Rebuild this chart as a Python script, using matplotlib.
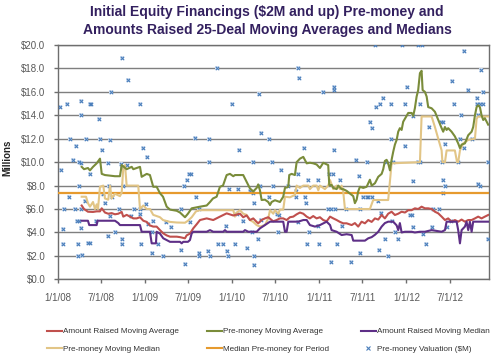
import matplotlib

matplotlib.use("Agg")
import matplotlib.pyplot as plt
import matplotlib.dates as mdates
from matplotlib.lines import Line2D
import numpy as np
import pandas as pd

# x values are decimal years (2008.0 = 1/1/08)

# Pre-money moving average (25 deals)
pm_avg_x = [2008.275, 2008.302, 2008.347, 2008.370, 2008.405, 2008.447, 2008.485, 2008.505,
            2008.542, 2008.600, 2008.657, 2008.714, 2008.734, 2008.791, 2008.849, 2008.867,
            2008.944, 2008.963, 2009.021, 2009.058, 2009.096, 2009.135, 2009.173, 2009.208,
            2009.250, 2009.288, 2009.365, 2009.403, 2009.460, 2009.494, 2009.537, 2009.632,
            2009.709, 2009.747, 2009.781, 2009.823, 2009.861, 2009.896, 2009.938, 2009.976,
            2010.014, 2010.033, 2010.128, 2010.167, 2010.205, 2010.243, 2010.282, 2010.300,
            2010.320, 2010.339, 2010.377, 2010.415, 2010.435, 2010.454, 2010.492, 2010.549,
            2010.587, 2010.607, 2010.645, 2010.656, 2010.683, 2010.721, 2010.741, 2010.779,
            2010.817, 2010.856, 2010.893, 2010.931, 2010.970, 2011.008, 2011.046, 2011.103,
            2011.115, 2011.142, 2011.161, 2011.200, 2011.218, 2011.257, 2011.275, 2011.314,
            2011.352, 2011.390, 2011.409, 2011.429, 2011.447, 2011.467, 2011.505, 2011.544,
            2011.562, 2011.581, 2011.601, 2011.639, 2011.677, 2011.716, 2011.734, 2011.753,
            2011.773, 2011.791, 2011.811, 2011.830, 2011.849, 2011.868, 2011.888, 2011.906,
            2011.925, 2011.945, 2011.963, 2011.983, 2012.002, 2012.021, 2012.060, 2012.078,
            2012.097, 2012.117, 2012.135, 2012.155, 2012.174, 2012.186, 2012.212, 2012.232,
            2012.250, 2012.289, 2012.327, 2012.365, 2012.404, 2012.422, 2012.442, 2012.461,
            2012.479, 2012.518, 2012.556, 2012.594, 2012.614, 2012.633, 2012.671, 2012.709,
            2012.748, 2012.766, 2012.786, 2012.805, 2012.823, 2012.843, 2012.862, 2012.881,
            2012.900, 2012.938]
pm_avg_y = [9.6, 9.4, 9.5, 9.3, 9.6, 9.9, 10.3, 9.0,
            8.9, 8.85, 8.8, 8.8, 9.75, 9.4, 9.6, 9.4,
            9.6, 8.75, 9.0, 8.9, 7.9, 7.9, 7.35, 7.05,
            6.2, 5.95, 5.85, 5.7, 5.3, 5.6, 6.06, 6.2,
            6.3, 6.6, 6.9, 7.05, 7.9, 8.0, 8.9, 9.0,
            8.8, 8.9, 8.9, 8.33, 7.76, 7.5, 7.8, 8.1,
            7.6, 6.77, 6.8, 6.6, 6.34, 6.6, 6.75, 6.6,
            7.05, 7.8, 7.9, 8.9, 9.0, 8.9, 10.0, 10.3,
            10.45, 9.9, 9.95, 9.9, 9.8, 9.5, 9.95, 9.75,
            8.05, 8.05, 7.8, 7.7, 8.0, 7.7, 7.7, 7.55,
            7.33, 7.1, 6.5, 6.8, 7.5, 7.9, 7.8, 7.9,
            8.2, 8.5, 8.0, 8.2, 8.75, 9.0, 9.4, 10.1,
            10.2, 9.9, 9.3, 10.2, 10.9, 11.5, 11.9, 12.6,
            12.9, 12.75, 13.45, 13.7, 13.95, 14.2, 14.2, 13.95,
            14.6, 15.6, 16.15, 17.6, 17.8, 16.15, 16.0, 15.6,
            14.7, 14.6, 14.3, 13.6, 12.9, 12.6, 13.0, 12.75,
            12.9, 12.6, 12.2, 11.6, 11.2, 11.5, 11.6, 12.3,
            12.6, 13.0, 14.0, 14.7, 14.85, 14.7, 14.0, 13.6,
            13.75, 13.2]

# Pre-money moving median
pm_med_x = [2008.275, 2008.325, 2008.347, 2008.370, 2008.405, 2008.428, 2008.447, 2008.462,
            2008.485, 2008.523, 2008.542, 2008.580, 2008.600, 2008.619, 2008.657, 2008.714,
            2008.734, 2008.752, 2008.772, 2008.791, 2008.924, 2008.944, 2008.982, 2009.021,
            2009.058, 2009.096, 2009.135, 2009.173, 2009.208, 2009.288, 2009.365, 2009.460,
            2009.494, 2009.537, 2009.586, 2009.632, 2009.938, 2010.014, 2010.033, 2010.053,
            2010.091, 2010.128, 2010.167, 2010.205, 2010.243, 2010.282, 2010.320, 2010.377,
            2010.415, 2010.435, 2010.473, 2010.492, 2010.530, 2010.549, 2010.587, 2010.607,
            2010.664, 2010.721, 2010.741, 2010.779, 2010.817, 2010.874, 2010.893, 2010.931,
            2010.970, 2010.989, 2011.008, 2011.065, 2011.103, 2011.124, 2011.161, 2011.200,
            2011.238, 2011.257, 2011.275, 2011.295, 2011.581, 2011.619, 2011.791, 2011.830,
            2012.155, 2012.174, 2012.289, 2012.327, 2012.365, 2012.404, 2012.413, 2012.442,
            2012.461, 2012.556, 2012.581, 2012.594, 2012.614, 2012.651, 2012.709, 2012.786,
            2012.805, 2012.823, 2012.938]
pm_med_y = [7.05, 7.05, 6.5, 6.2, 6.6, 6.0, 6.4, 6.0,
            7.9, 8.0, 6.9, 6.8, 8.0, 6.9, 7.3, 7.1,
            7.4, 9.5, 9.75, 8.0, 8.0, 6.0, 6.3, 6.0,
            6.0, 5.5, 5.4, 5.3, 5.06, 4.9, 4.85, 4.83,
            5.0, 5.3, 5.8, 5.9, 5.9, 5.9, 5.35, 5.7,
            5.9, 5.6, 5.5, 5.06, 4.9, 4.63, 4.5, 4.63,
            5.2, 5.9, 5.6, 5.9, 5.6, 5.95, 5.95, 7.05,
            7.0, 7.2, 8.0, 7.8, 8.0, 8.0, 7.7, 8.0,
            8.0, 7.6, 8.0, 7.7, 8.0, 8.47, 7.7, 8.0,
            7.7, 8.0, 7.5, 6.0, 6.0, 6.77, 6.77, 9.9,
            10.0, 13.9, 13.9, 13.0, 12.0, 11.0, 10.0, 10.0,
            11.0, 11.0, 10.0, 10.0, 11.0, 11.6, 11.9, 12.0,
            13.7, 13.9, 13.9]

# Amount raised moving average
ar_avg_x = [2008.275, 2008.302, 2008.347, 2008.405, 2008.447, 2008.485, 2008.505, 2008.542,
            2008.580, 2008.619, 2008.657, 2008.695, 2008.734, 2008.752, 2008.791, 2008.829,
            2008.867, 2008.906, 2008.944, 2008.982, 2009.021, 2009.058, 2009.096, 2009.135,
            2009.173, 2009.211, 2009.250, 2009.288, 2009.365, 2009.403, 2009.460, 2009.479,
            2009.517, 2009.555, 2009.594, 2009.632, 2009.709, 2009.784, 2009.861, 2009.938,
            2010.014, 2010.091, 2010.128, 2010.167, 2010.205, 2010.243, 2010.282, 2010.300,
            2010.339, 2010.377, 2010.415, 2010.454, 2010.473, 2010.511, 2010.549, 2010.587,
            2010.626, 2010.664, 2010.702, 2010.741, 2010.779, 2010.817, 2010.856, 2010.893,
            2010.931, 2010.970, 2011.008, 2011.046, 2011.085, 2011.124, 2011.161, 2011.200,
            2011.238, 2011.275, 2011.314, 2011.372, 2011.409, 2011.447, 2011.486, 2011.524,
            2011.562, 2011.601, 2011.639, 2011.677, 2011.716, 2011.753, 2011.791, 2011.830,
            2011.868, 2011.906, 2011.945, 2011.983, 2012.021, 2012.060, 2012.097, 2012.135,
            2012.174, 2012.212, 2012.250, 2012.289, 2012.327, 2012.365, 2012.404, 2012.442,
            2012.479, 2012.518, 2012.556, 2012.594, 2012.633, 2012.671, 2012.709, 2012.748,
            2012.786, 2012.823, 2012.862, 2012.900, 2012.938]
ar_avg_y = [6.3, 6.0, 5.77, 5.75, 5.8, 5.8, 6.06, 5.7,
            5.6, 5.65, 5.55, 5.6, 5.75, 5.35, 5.5, 5.35,
            5.2, 5.2, 5.3, 5.0, 4.9, 4.6, 4.5, 4.5,
            4.2, 3.92, 3.75, 3.64, 3.64, 3.6, 3.5, 3.75,
            3.9, 4.35, 4.7, 5.06, 5.2, 5.06, 5.35, 5.63,
            5.45, 5.6, 5.3, 5.45, 5.06, 5.2, 4.9, 4.78,
            5.06, 5.2, 5.3, 5.06, 4.95, 5.06, 5.2, 5.2,
            5.06, 5.3, 5.35, 5.55, 5.7, 5.6, 5.35, 5.2,
            5.4, 5.2, 5.3, 5.06, 4.95, 5.35, 5.2, 5.06,
            4.9, 4.78, 4.78, 4.63, 4.8, 4.5, 4.92, 4.78,
            5.06, 4.9, 5.2, 5.1, 5.49, 5.2, 5.6, 5.77,
            5.49, 5.6, 5.77, 5.7, 5.9, 5.9, 6.06, 6.0,
            6.2, 6.06, 6.06, 6.0, 5.77, 5.63, 5.35, 5.06,
            5.2, 4.92, 5.06, 4.92, 5.1, 4.92, 5.06, 5.06,
            5.2, 5.35, 5.2, 5.35, 5.49]

# Amount raised moving median
ar_med_x = [2008.275, 2008.347, 2008.362, 2008.447, 2008.456, 2008.657, 2008.695, 2008.714,
            2008.944, 2008.963, 2009.058, 2009.078, 2009.127, 2009.135, 2009.173, 2009.211,
            2009.250, 2009.288, 2009.403, 2009.422, 2009.440, 2009.494, 2009.517, 2009.537,
            2009.555, 2009.709, 2009.747, 2009.784, 2009.899, 2009.919, 2009.938, 2010.128,
            2010.148, 2010.186, 2010.282, 2010.320, 2010.377, 2010.435, 2010.587, 2010.607,
            2010.626, 2010.645, 2010.759, 2010.817, 2010.856, 2010.893, 2010.951, 2011.008,
            2011.085, 2011.124, 2011.142, 2011.200, 2011.257, 2011.314, 2011.372, 2011.390,
            2011.524, 2011.562, 2011.601, 2011.639, 2011.677, 2011.716, 2011.753, 2011.791,
            2011.849, 2011.888, 2011.906, 2011.925, 2011.945, 2011.983, 2012.060, 2012.097,
            2012.155, 2012.212, 2012.289, 2012.404, 2012.442, 2012.461, 2012.576, 2012.594,
            2012.614, 2012.633, 2012.671, 2012.690, 2012.709, 2012.728, 2012.748, 2012.766,
            2012.938]
ar_med_y = [5.0, 5.0, 4.63, 4.63, 5.0, 5.0, 4.8, 4.63,
            4.63, 4.06, 4.06, 3.07, 3.07, 4.06, 3.9, 3.5,
            3.35, 3.2, 3.2, 3.07, 3.2, 3.2, 3.35, 3.92,
            4.06, 4.06, 4.2, 4.06, 4.06, 4.2, 4.06, 4.06,
            4.2, 4.06, 4.06, 4.35, 4.63, 4.92, 4.92, 4.06,
            4.06, 4.92, 4.92, 5.06, 5.06, 4.63, 4.5, 4.63,
            4.92, 4.63, 4.2, 4.06, 3.78, 3.85, 3.78, 3.3,
            3.3, 3.5, 3.6, 3.8, 4.06, 4.5, 4.8, 4.92,
            4.92, 4.6, 4.2, 4.8, 4.0, 4.06, 4.06, 4.0,
            4.06, 4.06, 4.2, 4.06, 4.2, 4.92, 4.92, 4.2,
            3.07, 4.2, 4.5, 4.92, 4.2, 4.92, 4.06, 4.92,
            4.92]

# Median pre-money for the whole period
period_median = 7.4

# Individual pre-money valuations ($M)
deal_x = [2008.030, 2008.107, 2008.144, 2008.038, 2008.175, 2008.210, 2008.133, 2008.241,
          2008.241, 2008.264, 2008.267, 2008.267, 2008.325, 2008.370, 2008.370, 2008.385,
          2008.477, 2008.485, 2008.505, 2008.580, 2008.596, 2008.608, 2008.520, 2008.585,
          2008.619, 2008.734, 2008.806, 2008.726, 2008.734, 2008.745, 2008.791, 2008.947,
          2008.978, 2009.021, 2009.445, 2009.479, 2009.509, 2009.529, 2009.575, 2009.589,
          2009.739, 2009.739, 2009.830, 2010.002, 2010.076, 2009.968, 2011.639, 2011.945,
          2012.135, 2012.174, 2012.663, 2010.752, 2010.771, 2010.312, 2011.039, 2011.169,
          2011.169, 2010.331, 2010.427, 2010.828, 2011.169, 2010.236, 2010.458, 2010.564,
          2010.752, 2010.874, 2010.982, 2011.115, 2011.161, 2011.237, 2011.417, 2011.544,
          2011.455, 2011.581, 2011.601, 2011.654, 2011.700, 2011.731, 2011.819, 2011.819,
          2011.983, 2012.006, 2011.983, 2012.078, 2012.155, 2012.071, 2012.255, 2012.522,
          2012.545, 2012.702, 2012.851, 2012.805, 2012.877, 2012.805, 2012.843, 2012.881,
          2012.396, 2012.422, 2012.625, 2012.442, 2012.614, 2012.663, 2012.748, 2012.823,
          2012.938, 2012.135, 2012.155, 2012.404, 2012.594, 2011.765, 2011.849, 2012.422,
          2012.442, 2012.422, 2012.823, 2012.843, 2010.236, 2010.320, 2010.466, 2010.638,
          2010.729, 2008.064, 2008.057, 2008.076, 2008.198, 2008.267, 2008.218, 2008.244,
          2008.267, 2008.229, 2008.229, 2008.275, 2008.317, 2008.351, 2008.374, 2008.439,
          2008.542, 2008.580, 2008.600, 2008.657, 2008.706, 2008.734, 2008.734, 2008.837,
          2008.875, 2008.944, 2008.944, 2008.955, 2009.009, 2009.039, 2009.078, 2009.078,
          2009.096, 2009.147, 2009.211, 2009.239, 2009.299, 2009.411, 2009.414, 2009.460,
          2009.517, 2009.617, 2009.624, 2009.624, 2009.727, 2009.747, 2009.842, 2009.899,
          2009.927, 2009.945, 2009.950, 2010.053, 2010.033, 2010.122, 2010.174, 2010.071,
          2010.255, 2010.331, 2010.225, 2010.300, 2010.251, 2010.251, 2010.427, 2010.523,
          2010.541, 2010.729, 2010.759, 2010.836, 2010.847, 2010.862, 2010.885, 2010.989,
          2011.000, 2011.096, 2011.134, 2011.180, 2011.134, 2011.200, 2011.257, 2011.306,
          2011.364, 2011.467, 2011.467, 2011.505, 2011.544, 2011.562, 2011.601, 2011.677,
          2011.688, 2011.704, 2011.753, 2011.784, 2011.837, 2011.868, 2011.906, 2012.040,
          2012.067, 2012.078, 2012.186, 2012.224, 2012.289, 2012.300, 2012.376, 2012.461,
          2012.507, 2012.931, 2010.205, 2010.511]
deal_y = [14.7, 15.0, 12.0, 9.3, 10.15, 11.4, 7.0, 10.0,
          8.0, 15.2, 14.0, 9.9, 12.0, 15.0, 9.0, 15.0,
          13.7, 12.0, 11.0, 9.95, 11.9, 16.0, 7.3, 8.0,
          7.0, 18.9, 17.0, 9.85, 9.5, 8.0, 9.75, 15.0,
          11.2, 10.45, 8.0, 8.5, 9.0, 9.0, 12.05, 7.0,
          12.0, 10.0, 18.0, 15.0, 11.0, 7.7, 20.0, 20.0,
          20.0, 20.0, 19.5, 18.0, 17.2, 15.85, 16.0, 16.4,
          16.2, 12.5, 12.0, 11.2, 11.0, 10.0, 10.0, 9.3,
          9.0, 8.45, 8.45, 9.0, 9.0, 8.45, 10.15, 10.0,
          8.8, 13.45, 12.95, 14.7, 15.0, 15.45, 15.0, 12.0,
          15.0, 16.4, 11.4, 8.4, 15.0, 13.9, 13.0, 16.95,
          15.0, 16.2, 17.85, 15.45, 16.0, 15.0, 15.0, 15.0,
          13.45, 13.45, 14.0, 11.55, 12.0, 11.2, 12.0, 14.0,
          10.0, 10.0, 10.0, 10.0, 10.0, 10.0, 10.0, 8.45,
          8.0, 7.35, 8.1, 8.0, 7.4, 8.0, 8.0, 8.0,
          7.5, 4.27, 3.0, 6.0, 6.0, 6.0, 5.0, 5.0,
          4.4, 3.0, 2.0, 2.1, 6.7, 3.1, 3.1, 5.0,
          6.55, 3.7, 5.4, 4.0, 6.0, 3.4, 3.0, 5.4,
          6.0, 6.0, 5.55, 3.0, 6.4, 4.7, 4.0, 2.27,
          5.0, 3.0, 2.0, 4.85, 4.5, 6.0, 2.5, 1.28,
          4.85, 6.0, 2.27, 2.0, 2.4, 2.0, 3.0, 3.0,
          4.55, 2.4, 2.0, 5.6, 3.0, 5.0, 2.7, 7.7,
          6.55, 5.1, 4.06, 3.4, 2.0, 1.2, 7.0, 4.06,
          5.5, 7.0, 4.92, 7.0, 6.55, 3.0, 4.06, 4.55,
          3.0, 6.0, 6.0, 6.0, 1.5, 3.0, 4.57, 6.0,
          1.5, 6.0, 2.27, 7.0, 7.0, 7.0, 7.0, 6.7,
          2.5, 5.63, 3.4, 2.0, 5.0, 4.06, 3.4, 5.5,
          5.5, 4.5, 3.84, 3.0, 4.5, 6.0, 6.0, 4.44,
          5.0, 3.4, 7.5, 5.55]


def to_dates(years):
    years = np.asarray(years, dtype=float)
    return pd.Timestamp("2008-01-01") + pd.to_timedelta((years - 2008.0) * 365.25, unit="D")


plt.rcParams["font.family"] = ["Liberation Sans", "DejaVu Sans"]

C_AR_AVG = "#C0504D"
C_PM_AVG = "#7A8C3A"
C_AR_MED = "#5E2F87"
C_PM_MED = "#E2C586"
C_PERIOD = "#E69A2E"
C_DEAL = "#4A7EBB"
TITLE_COLOR = "#33205F"

fig = plt.figure(figsize=(5.0, 3.56), dpi=100)
ax = fig.add_axes([0.1154, 0.2154, 0.8626, 0.6582])

# scatter: light square behind a blue x, like the Excel marker
ax.scatter(to_dates(deal_x), deal_y, marker="s", s=9, color="#D3E0F1", linewidths=0, zorder=2)
ax.scatter(to_dates(deal_x), deal_y, marker="x", s=6, color=C_DEAL, linewidths=0.8, zorder=3)

ax.axhline(period_median, color=C_PERIOD, lw=1.6, zorder=3)
ax.plot(to_dates(pm_med_x), pm_med_y, color=C_PM_MED, lw=1.5, zorder=4)
ax.plot(to_dates(pm_avg_x), pm_avg_y, color=C_PM_AVG, lw=1.5, zorder=5)
ax.plot(to_dates(ar_avg_x), ar_avg_y, color=C_AR_AVG, lw=1.5, zorder=5)
ax.plot(to_dates(ar_med_x), ar_med_y, color=C_AR_MED, lw=1.5, zorder=6)

ax.set_ylim(0, 20)
ax.set_yticks(np.arange(0, 20.1, 2))
ax.yaxis.set_major_formatter(matplotlib.ticker.FuncFormatter(lambda v, _: f"${v:.1f}"))
ax.grid(True, axis="y", color="#7F7F7F", lw=1.0, zorder=1)
ax.set_axisbelow(True)

ax.set_xlim(pd.Timestamp("2008-01-01"), pd.Timestamp("2012-12-12"))
ax.set_xticks(pd.date_range("2008-01-01", "2012-07-01", freq="6MS"))
ax.xaxis.set_major_formatter(mdates.DateFormatter("%-m/%-d/%y"))

for sp in ax.spines.values():
    sp.set_color("#6E6E6E")
    sp.set_linewidth(1.0)
ax.tick_params(axis="both", direction="out", length=3, width=1.0, color="#6E6E6E",
               labelcolor="#595959", labelsize=7)
ax.tick_params(axis="x", pad=7)
ax.tick_params(axis="y", pad=6)

ax.set_ylabel("Millions", fontsize=7, fontweight="bold", color="#222222")
ax.yaxis.set_label_coords(-0.104, 0.52)

fig.text(0.534, 0.966, "Initial Equity Financings ($2M and up) Pre-money and",
         ha="center", va="center", fontsize=10, fontweight="bold", color=TITLE_COLOR)
fig.text(0.534, 0.915, "Amounts Raised 25-Deal Moving Averages and Medians",
         ha="center", va="center", fontsize=10, fontweight="bold", color=TITLE_COLOR)

# legend: three one-column blocks so each column sits where the reference has it
legend_cols = [
    ([Line2D([], [], color=C_AR_AVG, lw=1.5), Line2D([], [], color=C_PM_MED, lw=1.5)],
     ["Amount Raised Moving Average", "Pre-money Moving Median"], 0.094),
    ([Line2D([], [], color=C_PM_AVG, lw=1.5), Line2D([], [], color=C_PERIOD, lw=1.5)],
     ["Pre-money Moving Average", "Median Pre-money for Period"], 0.414),
    ([Line2D([], [], color=C_AR_MED, lw=1.5),
      Line2D([], [], color=C_DEAL, marker="x", ms=3, mew=0.8, lw=0)],
     ["Amount Raised Moving Median", "Pre-money Valuation ($M)"], 0.722),
]
for hs, ls, x0 in legend_cols:
    fig.legend(hs, ls, loc="center left", bbox_to_anchor=(x0, 0.044), frameon=False,
               fontsize=5.9, handlelength=1.8, handletextpad=0.1, labelspacing=1.2,
               borderpad=0, borderaxespad=0, labelcolor="#333333")

fig.savefig("out.png", dpi=100)
